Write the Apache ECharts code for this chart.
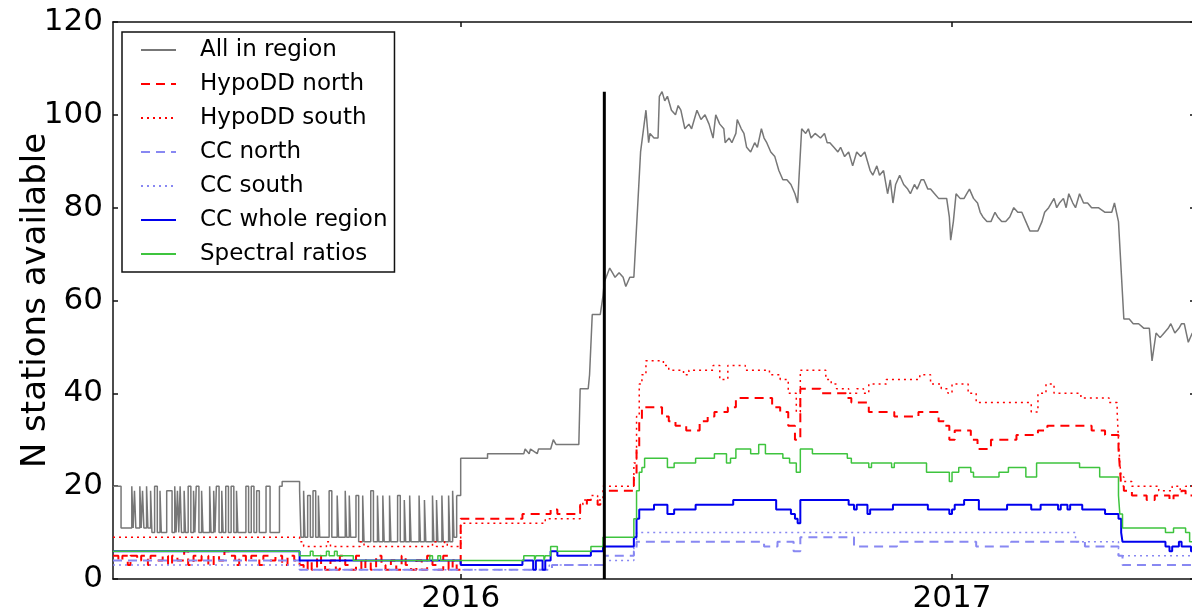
<!DOCTYPE html>
<html>
<head>
<meta charset="utf-8">
<script src="https://cdn.jsdelivr.net/npm/echarts@6/dist/echarts.min.js"></script>
<style>
  html, body { margin: 0; padding: 0; background: #fff; }
  #chart { width: 1192px; height: 615px; }
</style>
</head>
<body>
<div id="chart"></div>
<script>
// x values are days counted from 2016-01-01
const xMinDay = -259;
const xMaxDay = 547;
const yearTickDays = [0, 366];
const yearTickLabels = ['2016', '2017'];

// vertical marker
const divideDay = 107;
const divideTop = 105;

// All in region, 2015 part (held until next point)
const allRegionPre = [
  [-259,20],[-253,11],[-245,20],[-244,11],[-243,19],[-242,11],[-239,20],[-238,11],[-237,19],[-236,11],
  [-234,20],[-233,11],[-231,19],[-230,10],[-228,20],[-226,10],[-224,19],[-223,10],[-219,19],[-215,10],
  [-213,20],[-212,10],[-211,19],[-210,10],[-209,20],[-208,10],[-206,19],[-205,10],[-203,20],[-201,10],
  [-199,19],[-198,10],[-197,20],[-195,10],[-193,19],[-192,10],[-187,20],[-186,10],[-184,19],[-183,10],
  [-182,20],[-180,10],[-178,19],[-177,10],[-175,20],[-173,10],[-171,20],[-169,10],[-167,19],[-166,10],
  [-160,20],[-158,10],[-156,20],[-154,10],[-152,19],[-150,10],[-145,20],[-142,10],[-135,20],[-133,21],
  [-120,19],[-119,9],[-117,19],[-116,9],[-114,18],[-112,9],[-110,19],[-108,9],[-106,18],[-105,9],
  [-98,19],[-96,9],[-92,18],[-91,9],[-86,19],[-85,9],[-83,18],[-82,9],[-78,18],[-76,8],
  [-73,18],[-72,8],[-67,19],[-65,8],[-62,18],[-61,8],[-58,18],[-57,8],[-53,18],[-52,8],
  [-47,18],[-45,8],[-42,17],[-41,8],[-38,18],[-37,8],[-31,18],[-30,8],[-27,17],[-26,8],
  [-21,18],[-20,8],[-18,17],[-17,8],[-14,18],[-13,8],[-9,18],[-8,8],[-6,19],[-5,9],[-3,18]
];

// All in region, from 2016 on
const allRegionPost = [
  [-3,18],[0,18],[0,26],[20,26],[20,27],[47,27],[48,28],[51,27],[52,28],[57,27],[58,28],[67,28],
  [69,30],[71,29],[88,29],[89,41],[95,41],[96,44],[98,57],[104,57],[106,61],[107,64],[111,67],
  [113,66],[115,65],[118,66],[121,65],[123,63],[126,65],[129,65],[134,92],[138,101],[140,94],
  [141,96],[144,95],[147,95],[148,104],[150,105],[152,103],[154,104],[157,101],[160,100],
  [162,102],[164,101],[167,97],[170,98],[172,97],[176,101],[179,99],[182,100],[185,98],
  [188,95],[190,100],[193,98],[196,97],[197,94],[200,95],[202,94],[205,96],[206,99],[209,97],
  [211,96],[213,93],[216,92],[219,94],[221,93],[224,97],[226,95],[228,94],[231,92],[234,91],
  [237,88],[240,86],[243,86],[246,85],[249,83],[251,81],[254,97],[257,96],[259,97],[261,95],
  [264,96],[268,95],[271,96],[273,94],[275,94],[278,93],[281,92],[283,93],[286,91],[289,92],
  [292,89],[295,92],[298,91],[301,92],[303,90],[305,88],[307,87],[310,89],[312,87],[315,88],
  [318,83],[320,86],[322,81],[324,85],[327,87],[330,85],[333,84],[335,83],[338,85],[340,84],
  [343,86],[345,86],[348,84],[350,84],[353,83],[356,82],[359,82],[362,82],[364,78],[365,73],
  [367,77],[369,83],[372,82],[375,82],[377,83],[379,84],[382,82],[385,81],[387,79],[389,78],
  [392,77],[395,77],[398,79],[400,78],[403,77],[406,77],[409,78],[412,80],[415,79],[418,79],
  [421,77],[424,75],[427,75],[430,75],[433,77],[435,79],[438,80],[442,82],[444,80],[446,81],
  [449,82],[451,80],[453,83],[456,81],[458,80],[461,83],[464,81],[467,81],[470,80],[475,80],
  [480,79],[485,79],[487,81],[490,77],[494,56],[498,56],[501,55],[505,55],[509,54],[513,54],
  [515,47],[518,53],[521,52],[524,53],[527,54],[529,55],[532,53],[535,54],[537,55],[539,55],
  [542,51],[545,53],[547,52]
];

const hypoNorth = [
  [-259,5],[-255,4],[-252,5],[-248,3],[-246,5],[-241,4],[-238,5],[-233,3],[-231,5],[-226,4],
  [-222,5],[-218,3],[-215,5],[-211,4],[-206,6],[-203,3],[-199,5],[-196,4],[-193,5],[-188,3],
  [-184,5],[-180,4],[-176,6],[-172,5],[-168,3],[-165,5],[-160,4],[-156,5],[-150,3],[-147,5],
  [-142,4],[-138,5],[-133,3],[-129,5],[-124,4],[-120,3],[-117,2],[-114,4],[-111,2],[-107,5],
  [-104,3],[-101,2],[-97,4],[-93,2],[-90,5],[-86,3],[-82,2],[-78,5],[-74,2],[-71,4],
  [-67,2],[-63,5],[-59,3],[-56,2],[-52,4],[-48,2],[-44,5],[-41,3],[-37,2],[-33,4],
  [-29,2],[-25,5],[-21,3],[-17,2],[-13,5],[-9,2],[-6,4],[-3,2],
  [0,13],[46,14],[67,15],[72,14],[89,16],[94,17],[102,16],[104,17],[107,19],[129,22],
  [131,28],[133,34],[135,37],[150,35],[155,34],[160,33],[168,32],[178,34],[184,35],[189,36],
  [199,37],[205,39],[232,37],[238,36],[244,33],[249,30],[253,41],[268,40],[287,39],[291,38],
  [304,36],[323,35],[341,36],[356,34],[360,33],[364,30],[368,32],[380,30],[385,28],[395,30],
  [414,31],[430,32],[437,33],[470,32],[480,31],[490,28],[491,24],[492,20],[494,19],[500,18],
  [511,17],[517,18],[528,17],[531,18],[537,19],[540,18],[547,18]
];

const hypoSouth = [
  [-259,9],[-120,8],[-117,7],[-100,8],[-97,7],[-75,8],[-72,7],[-21,8],[-18,7],[-12,8],[-10,7],
  [0,12],[63,13],[89,16],[91,17],[97,18],[102,17],[106,20],[129,25],[131,35],[133,42],[135,44],
  [138,47],[151,46],[155,45],[166,44],[170,45],[188,46],[193,43],[199,46],[212,45],[230,44],
  [238,43],[244,40],[250,36],[253,45],[272,43],[276,42],[280,41],[289,40],[295,41],[300,40],
  [304,42],[317,43],[342,44],[350,42],[358,41],[363,40],[366,42],[378,40],[384,38],[425,36],
  [430,40],[436,42],[442,40],[462,39],[483,38],[489,36],[490,30],[491,25],[492,22],[494,21],
  [500,20],[520,19],[530,20],[536,19],[540,20],[547,20]
];

const ccNorth = [
  [-259,4],[-120,2],[68,3],[107,5],[129,6],[131,8],[226,7],[236,8],[248,6],[253,9],
  [293,7],[325,8],[384,7],[410,8],[465,7],[490,5],[493,3],[547,3]
];

const ccSouth = [
  [-259,3],[-120,2],[66,3],[107,4],[129,7],[131,10],[458,8],[490,5],[547,5]
];

const ccWhole = [
  [-259,6],[-120,4],[0,3],[46,4],[54,2],[56,4],[61,2],[63,4],[67,6],[72,5],[97,6],[106,7],
  [129,9],[131,13],[133,15],[144,16],[154,14],[159,15],[175,16],[203,17],[235,15],[246,14],
  [249,13],[251,12],[253,17],[289,16],[293,15],[295,16],[303,14],[305,15],[322,16],[348,15],
  [364,14],[366,15],[368,16],[375,17],[386,15],[407,16],[425,15],[432,16],[445,15],[447,16],
  [452,15],[454,16],[463,15],[480,14],[490,13],[492,10],[493,8],[525,7],[528,6],[530,7],
  [535,8],[537,7],[544,6],[547,6]
];

const spectral = [
  [-259,6],[-120,5],[-112,6],[-110,5],[-100,6],[-98,5],[-94,6],[-92,5],[-80,4],[-23,5],[-21,4],
  [-17,5],[-15,4],[0,4],[47,5],[55,4],[56,5],[62,4],[63,5],[67,7],[72,6],[97,7],[106,9],
  [129,13],[131,19],[133,23],[135,24],[137,26],[154,24],[159,25],[175,26],[189,27],[198,25],
  [201,26],[205,28],[216,27],[222,29],[227,27],[240,26],[245,25],[250,23],[253,28],[262,27],
  [288,26],[291,25],[304,24],[306,25],[321,24],[323,25],[347,23],[364,21],[366,23],[371,24],
  [380,23],[382,22],[401,23],[408,24],[421,22],[429,25],[461,24],[476,22],[490,18],[491,14],
  [493,11],[525,10],[531,11],[540,10],[543,8],[547,8]
];

const legendNames = ['All in region', 'HypoDD north', 'HypoDD south', 'CC north', 'CC south', 'CC whole region', 'Spectral ratios'];

const font = 'DejaVu Sans';
const frame = { color: '#111', width: 1.5 };

function lineSeries(name, data, color, width, type, step) {
  return {
    name: name,
    type: 'line',
    data: data,
    step: step ? 'end' : false,
    symbol: 'none',
    silent: true,
    itemStyle: { color: color },
    lineStyle: { color: color, width: width, type: type },
  };
}

const chart = echarts.init(document.getElementById('chart'));
chart.setOption({
  animation: false,
  backgroundColor: '#fff',
  grid: { left: 113, right: -3, top: 22, bottom: 36, outerBoundsMode: 'none' },
  legend: {
    data: legendNames,
    orient: 'vertical',
    left: 122,
    top: 32,
    padding: [5, 7, 5, 18],
    itemGap: 8,
    itemWidth: 35,
    itemHeight: 14,
    backgroundColor: '#fff',
    borderColor: '#111',
    borderWidth: 1.5,
    borderRadius: 0,
    itemStyle: { opacity: 0 },
    textStyle: { fontSize: 23, fontFamily: font, color: '#000', lineHeight: 26, padding: [0, 0, 0, 19] },
  },
  xAxis: [
    {
      type: 'value', min: xMinDay, max: xMaxDay, position: 'bottom',
      axisLine: { show: true, onZero: false, lineStyle: frame },
      axisTick: { show: true, inside: true, length: 5, customValues: yearTickDays, lineStyle: frame },
      axisLabel: {
        customValues: yearTickDays,
        formatter: (v) => yearTickLabels[yearTickDays.indexOf(v)],
        fontSize: 31, fontFamily: font, color: '#000', margin: 4,
      },
      splitLine: { show: false },
    },
    {
      type: 'value', min: xMinDay, max: xMaxDay, position: 'top',
      axisLine: { show: true, onZero: false, lineStyle: frame },
      axisTick: { show: true, inside: true, length: 5, customValues: yearTickDays, lineStyle: frame },
      axisLabel: { show: false },
      splitLine: { show: false },
    },
  ],
  yAxis: [
    {
      type: 'value', min: 0, max: 120, interval: 20, position: 'left',
      name: 'N stations available', nameLocation: 'middle', nameGap: 60, nameMoveOverlap: false,
      nameTextStyle: { fontSize: 34, fontFamily: font, color: '#000' },
      axisLine: { show: true, onZero: false, lineStyle: frame },
      axisTick: { show: true, inside: true, length: 5, lineStyle: frame },
      axisLabel: { fontSize: 31, fontFamily: font, color: '#000', margin: 10 },
      splitLine: { show: false },
    },
    {
      type: 'value', min: 0, max: 120, interval: 20, position: 'right',
      axisLine: { show: true, onZero: false, lineStyle: frame },
      axisTick: { show: true, inside: true, length: 5, lineStyle: frame },
      axisLabel: { show: false },
      splitLine: { show: false },
    },
  ],
  series: [
    lineSeries('All in region', allRegionPre, '#777777', 1.5, 'solid', true),
    lineSeries('All in region', allRegionPost, '#777777', 1.5, 'solid', false),
    lineSeries('HypoDD north', hypoNorth, '#ff0000', 2, [9, 6], true),
    lineSeries('HypoDD south', hypoSouth, '#ff0000', 1.5, [2, 4], true),
    lineSeries('CC north', ccNorth, '#8888f2', 2, [9, 6], true),
    lineSeries('CC south', ccSouth, '#8888f2', 1.5, [2, 4], true),
    lineSeries('CC whole region', ccWhole, '#0000ee', 2, 'solid', true),
    lineSeries('Spectral ratios', spectral, '#3ec43e', 1.5, 'solid', true),
    {
      name: 'divide', type: 'line', symbol: 'none', silent: true,
      data: [[divideDay, 0], [divideDay, divideTop]],
      lineStyle: { color: '#000', width: 3 },
    },
  ],
});
</script>
</body>
</html>
